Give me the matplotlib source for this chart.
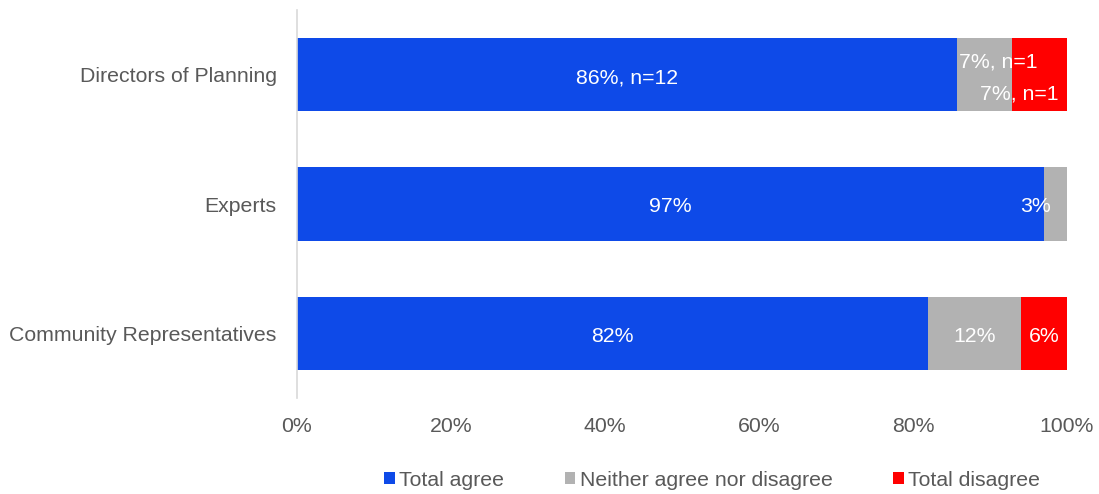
import matplotlib
matplotlib.use("Agg")
import matplotlib.pyplot as plt
from matplotlib.patches import Patch
import numpy as np

plt.rcParams['font.family'] = ['Liberation Sans', 'DejaVu Sans']

categories = ["Directors of Planning", "Experts", "Community Representatives"]
series_names = ["Total agree", "Neither agree nor disagree", "Total disagree"]
agree = [85.7, 97.0, 82.0]
neither = [7.15, 3.0, 12.0]
disagree = [7.15, 0.0, 6.0]
labels_agree = ["86%, n=12", "97%", "82%"]
labels_neither = ["7%, n=1", "3%", "12%"]
labels_disagree = ["7%, n=1", "", "6%"]
xticklabels = ["0%", "20%", "40%", "60%", "80%", "100%"]

colors = ["#0E4AE8", "#B2B2B2", "#FF0000"]
fs = 15.3
textgrey = "#595959"

fig = plt.figure(figsize=(10.99, 4.94), dpi=100)
ax = fig.add_axes([297/1099, 1-398/494, 770/1099, 388/494])

y = np.arange(len(categories))
h = 0.566
a = np.array(agree); n = np.array(neither); d = np.array(disagree)
ax.barh(y, a, height=h, color=colors[0])
ax.barh(y, n, left=a, height=h, color=colors[1])
ax.barh(y, d, left=a + n, height=h, color=colors[2])

ax.set_ylim(2.5, -0.5)
ax.set_xlim(0, 100)

dy = 0.022
for i in range(len(categories)):
    ax.text(a[i] / 2, y[i] + dy, labels_agree[i], color="white", fontsize=fs,
            ha="center", va="center")

# Directors: labels offset as in the reference
ax.text(a[0] + n[0] / 2 + 1.8, y[0] - 0.12 + dy, labels_neither[0], color="white",
        fontsize=fs, ha="center", va="center")
ax.text(a[0] + n[0] + d[0] / 2 - 2.6, y[0] + 0.13 + dy, labels_disagree[0], color="white",
        fontsize=fs, ha="center", va="center")
# Experts
ax.text(a[1] + n[1] / 2 - 2.6, y[1] + dy, labels_neither[1], color="white",
        fontsize=fs, ha="center", va="center")
# Community
ax.text(a[2] + n[2] / 2, y[2] + dy, labels_neither[2], color="white",
        fontsize=fs, ha="center", va="center")
ax.text(a[2] + n[2] + d[2] / 2, y[2] + dy, labels_disagree[2], color="white",
        fontsize=fs, ha="center", va="center")

ax.set_yticks(y)
ax.set_yticklabels(categories, fontsize=fs, color=textgrey)
ax.set_xticks(np.linspace(0, 100, len(xticklabels)))
ax.set_xticklabels(xticklabels, fontsize=fs, color=textgrey)
ax.tick_params(axis="both", length=0)
ax.tick_params(axis="y", pad=14.5)
ax.tick_params(axis="x", pad=14)

for s in ["top", "right", "bottom"]:
    ax.spines[s].set_visible(False)
ax.spines["left"].set_color("#D9D9D9")
ax.spines["left"].set_linewidth(1.2)

handles = [Patch(facecolor=c, edgecolor="none") for c in colors]
fig.legend(handles, series_names, loc="center", bbox_to_anchor=(712/1099, 1-480/494),
           ncol=3, frameon=False, fontsize=fs, handlelength=0.5, handleheight=0.5,
           handletextpad=0.2, columnspacing=2.85, labelcolor=textgrey)

fig.savefig("out.png", dpi=100)
